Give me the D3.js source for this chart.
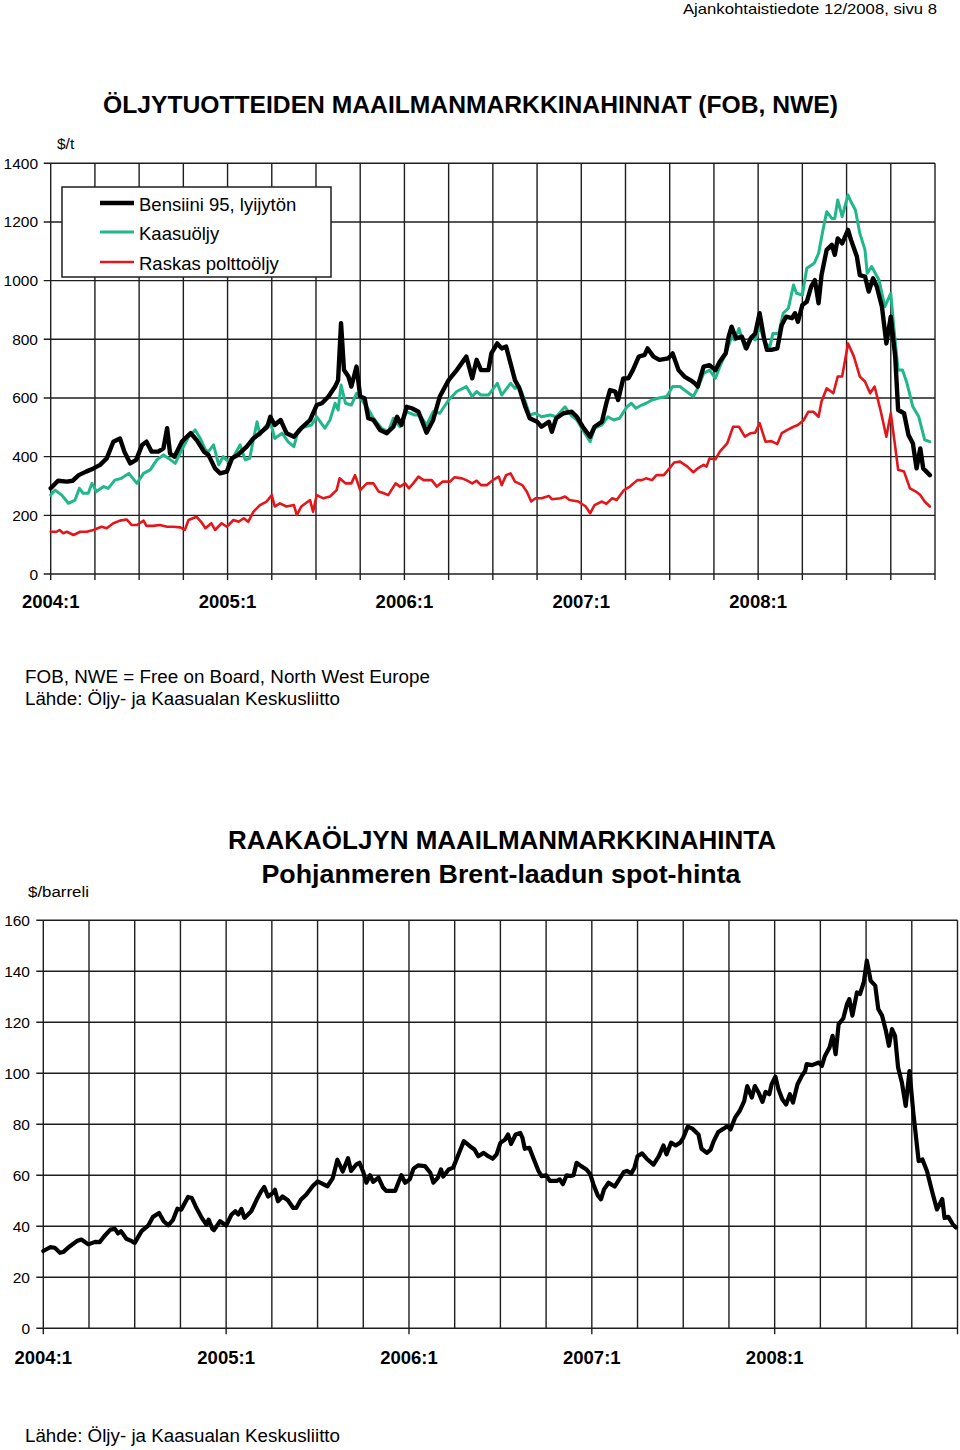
<!DOCTYPE html>
<html><head><meta charset="utf-8">
<script src="https://cdn.jsdelivr.net/npm/d3@7"></script>
<style>
html,body{margin:0;padding:0;background:#fff;}
svg{display:block;font-family:"Liberation Sans",Arial,sans-serif;}
</style></head>
<body>
<svg id="c" width="960" height="1450"></svg>
<script>
// ---------- DATA (month index since 2004:1, value) ----------
const yearLabels = ["2004:1","2005:1","2006:1","2007:1","2008:1"];
const productTicks = [0,200,400,600,800,1000,1200,1400];
const brentTicks = [0,20,40,60,80,100,120,140,160];
const seriesNames = ["Bensiini 95, lyijytön","Kaasuöljy","Raskas polttoöljy"];

const bensiini = [[0,292],[0.5,318],[1.1,315],[1.5,318],[1.9,337],[2.4,349],[2.9,360],[3.35,372],[3.8,394],[4.25,451],[4.7,462],[5.0,417],[5.4,377],[5.8,389],[6.2,440],[6.5,451],[6.85,417],[7.3,417],[7.65,428],[7.9,497],[8.1,411],[8.4,400],[8.9,451],[9.5,480],[9.9,457],[10.4,417],[10.7,406],[11.15,360],[11.5,343],[11.95,349],[12.3,394],[12.7,406],[13.3,434],[13.75,462],[14.2,480],[14.7,502],[14.9,536],[15.2,508],[15.6,525],[16.0,480],[16.5,468],[17.0,497],[17.6,525],[18.05,576],[18.4,582],[18.85,605],[19.3,639],[19.5,661],[19.7,855],[19.9,695],[20.2,673],[20.4,639],[20.75,707],[21.0,605],[21.3,599],[21.55,531],[21.9,525],[22.35,491],[22.8,480],[23.25,502],[23.5,536],[23.8,508],[24.15,570],[24.5,565],[24.95,553],[25.5,482],[25.95,525],[26.4,605],[27.0,661],[27.55,695],[28.2,741],[28.6,667],[28.9,730],[29.2,695],[29.7,695],[29.9,752],[30.3,786],[30.6,769],[30.9,775],[31.2,718],[31.5,661],[31.8,633],[32.2,570],[32.5,531],[33.0,519],[33.3,502],[33.8,519],[34.0,485],[34.3,531],[34.8,548],[35.35,553],[35.7,536],[36.1,502],[36.6,468],[36.9,502],[37.4,519],[37.7,582],[37.95,627],[38.3,622],[38.5,593],[38.85,667],[39.2,667],[39.5,695],[39.9,741],[40.3,747],[40.5,769],[40.9,741],[41.3,730],[41.9,735],[42.2,752],[42.6,695],[43.0,673],[43.4,661],[43.7,650],[43.9,639],[44.3,707],[44.7,712],[45.1,695],[45.4,724],[45.8,752],[46.0,809],[46.2,843],[46.5,803],[46.9,809],[47.2,769],[47.5,803],[47.8,820],[48.1,889],[48.4,803],[48.6,764],[48.9,764],[49.3,769],[49.6,849],[49.9,877],[50.3,872],[50.5,889],[50.7,860],[51.0,917],[51.3,928],[51.6,980],[51.85,1002],[52.1,923],[52.3,1019],[52.65,1105],[53.0,1122],[53.2,1088],[53.4,1144],[53.7,1127],[54.1,1173],[54.3,1139],[54.7,1082],[54.9,1019],[55.25,1014],[55.5,963],[55.8,1008],[56.05,980],[56.4,911],[56.7,786],[57.0,877],[57.3,741],[57.5,559],[57.9,548],[58.2,474],[58.5,445],[58.75,360],[59.0,428],[59.2,360],[59.65,337]];

const kaasuoljy = [[0,269],[0.3,286],[0.75,269],[1.2,241],[1.65,252],[1.95,292],[2.2,275],[2.55,275],[2.8,309],[3.1,281],[3.6,298],[3.9,292],[4.35,320],[4.8,326],[5.3,343],[5.85,309],[6.3,343],[6.75,355],[7.2,389],[7.65,406],[8.0,394],[8.45,377],[8.9,423],[9.35,468],[9.8,491],[10.15,462],[10.5,423],[10.7,417],[11.05,440],[11.4,372],[11.7,400],[12.05,383],[12.4,400],[12.85,440],[13.2,389],[13.5,394],[14.0,519],[14.2,474],[14.55,502],[14.9,519],[15.2,462],[15.7,480],[16.1,451],[16.5,434],[16.8,491],[17.25,502],[17.7,508],[18.05,536],[18.6,497],[18.95,525],[19.3,582],[19.5,559],[19.7,644],[20.0,582],[20.4,576],[20.75,616],[21.1,593],[21.45,570],[21.9,531],[22.45,497],[22.9,485],[23.25,531],[23.7,502],[24.15,553],[24.7,542],[25.05,542],[25.5,508],[25.95,553],[26.4,548],[27.0,593],[27.55,622],[28.2,639],[28.6,605],[28.9,622],[29.2,610],[29.7,610],[30.3,650],[30.6,610],[31.2,650],[31.5,633],[31.8,639],[32.2,588],[32.5,542],[32.9,548],[33.3,536],[33.9,542],[34.3,536],[34.9,570],[35.3,542],[35.7,525],[36.1,491],[36.6,451],[36.9,497],[37.4,508],[37.8,536],[38.2,525],[38.6,531],[39.1,570],[39.4,582],[39.7,565],[40.1,576],[40.4,582],[40.8,593],[41.2,599],[41.8,605],[42.2,639],[42.7,639],[43.0,627],[43.6,605],[43.9,633],[44.3,684],[44.7,695],[45.1,667],[45.4,707],[45.9,764],[46.2,809],[46.4,798],[46.7,837],[47.1,769],[47.5,809],[47.8,798],[48.1,843],[48.5,786],[48.8,775],[49.0,820],[49.4,820],[49.7,889],[50.05,906],[50.4,985],[50.6,957],[51.0,951],[51.3,1042],[51.8,1059],[52.1,1093],[52.4,1173],[52.65,1235],[53.0,1212],[53.2,1212],[53.4,1275],[53.7,1218],[54.1,1292],[54.3,1269],[54.6,1241],[54.9,1161],[55.25,1105],[55.4,1025],[55.7,1048],[56.2,1002],[56.6,911],[57.0,957],[57.2,843],[57.5,695],[57.8,695],[58.1,650],[58.5,570],[58.9,536],[59.3,457],[59.65,451]];

const raskas = [[0,144],[0.4,144],[0.6,150],[0.85,139],[1.1,144],[1.55,133],[2.0,144],[2.45,144],[2.9,150],[3.45,161],[3.8,156],[4.25,173],[4.7,182],[5.15,186],[5.5,167],[5.85,167],[6.3,182],[6.5,164],[6.95,164],[7.4,167],[7.9,161],[8.3,161],[8.8,159],[9.1,150],[9.35,184],[9.9,195],[10.25,175],[10.5,156],[10.9,173],[11.15,150],[11.6,173],[11.95,161],[12.4,184],[12.75,178],[13.1,190],[13.4,178],[13.75,212],[14.2,235],[14.65,247],[15.0,269],[15.2,230],[15.55,241],[16.0,230],[16.5,235],[16.7,201],[17.0,230],[17.6,252],[17.8,212],[18.05,269],[18.5,258],[18.95,264],[19.4,286],[19.6,326],[20.0,309],[20.4,309],[20.65,337],[21.0,286],[21.45,309],[21.9,309],[22.25,281],[22.6,275],[22.9,269],[23.4,309],[23.7,298],[24.05,309],[24.3,292],[24.6,309],[24.95,332],[25.3,320],[25.85,320],[26.2,298],[26.6,315],[27.1,315],[27.4,330],[27.9,326],[28.2,320],[28.6,309],[28.9,318],[29.2,303],[29.6,303],[30.0,320],[30.4,332],[30.6,303],[30.9,337],[31.2,343],[31.5,315],[32.0,303],[32.3,281],[32.6,247],[32.9,258],[33.3,258],[33.8,266],[34.0,255],[34.6,258],[34.9,264],[35.2,252],[35.8,247],[36.3,230],[36.6,207],[36.9,235],[37.4,247],[37.7,239],[38.1,258],[38.4,252],[38.9,286],[39.3,298],[39.8,320],[40.1,320],[40.4,326],[40.8,320],[41.1,337],[41.6,337],[41.9,355],[42.3,380],[42.7,383],[43.2,366],[43.6,347],[43.9,360],[44.3,372],[44.5,366],[44.7,394],[45.1,391],[45.4,417],[45.9,445],[46.3,502],[46.7,502],[47.1,468],[47.5,480],[47.8,482],[48.1,514],[48.5,451],[48.9,453],[49.3,443],[49.6,480],[50.05,493],[50.4,502],[50.7,508],[51.1,525],[51.4,553],[51.75,553],[52.1,536],[52.3,588],[52.65,633],[53.1,616],[53.4,673],[53.7,673],[54.1,786],[54.5,741],[54.9,673],[55.25,656],[55.6,616],[55.9,639],[56.3,559],[56.7,468],[57.0,548],[57.3,434],[57.5,355],[57.9,349],[58.3,292],[58.7,281],[59.0,269],[59.3,247],[59.65,230]];

const brent = [[0,30.3],[0.45,31.8],[0.75,31.6],[1.1,29.6],[1.3,29.9],[1.75,32.2],[2.2,34.2],[2.5,34.8],[2.95,32.9],[3.4,33.9],[3.7,33.8],[4.0,36.1],[4.4,38.7],[4.7,39.0],[4.9,37.2],[5.1,38.1],[5.45,35.1],[5.8,34.2],[6.0,33.5],[6.45,38.1],[6.9,40.4],[7.2,43.7],[7.6,45.2],[7.9,42.0],[8.2,40.4],[8.5,42.4],[8.8,46.9],[9.05,46.5],[9.5,51.5],[9.75,51.1],[10.0,47.8],[10.4,43.3],[10.7,40.7],[10.85,42.6],[11.1,39.0],[11.2,38.5],[11.6,42.0],[12.0,40.3],[12.35,44.6],[12.6,45.9],[12.8,44.6],[13.0,46.8],[13.2,43.3],[13.65,45.9],[14.0,50.4],[14.3,53.7],[14.5,55.4],[14.75,51.7],[15.05,53.0],[15.2,54.3],[15.4,49.8],[15.7,51.7],[16.05,50.2],[16.4,47.2],[16.6,47.2],[16.9,50.4],[17.25,52.4],[17.7,55.9],[18.0,57.6],[18.2,57.0],[18.65,55.7],[19.0,58.9],[19.3,66.1],[19.65,61.5],[20.0,66.7],[20.2,61.7],[20.55,64.3],[20.75,64.9],[21.0,61.3],[21.2,57.1],[21.45,60.0],[21.65,57.4],[22.0,59.1],[22.3,55.2],[22.5,53.9],[23.1,53.9],[23.3,57.1],[23.5,60.0],[23.75,57.1],[24.05,58.4],[24.3,62.6],[24.6,63.9],[25.05,63.6],[25.4,61.0],[25.6,57.1],[25.9,59.1],[26.1,62.3],[26.25,59.5],[26.6,62.3],[26.9,63.0],[27.2,67.5],[27.6,73.4],[28.0,71.4],[28.3,70.1],[28.55,67.5],[28.9,68.8],[29.2,67.5],[29.5,66.5],[29.75,68.2],[30.0,72.7],[30.3,74.0],[30.5,76.0],[30.7,72.3],[31.0,76.0],[31.3,76.6],[31.45,74.7],[31.6,70.4],[31.9,70.8],[32.2,66.2],[32.5,61.7],[32.7,59.7],[33.0,60.0],[33.25,57.8],[33.7,57.8],[33.9,58.4],[34.1,56.5],[34.35,60.0],[34.6,59.7],[34.8,60.0],[35.0,64.9],[35.3,63.6],[35.65,62.3],[35.9,60.4],[36.1,56.5],[36.4,52.0],[36.6,50.6],[36.8,54.5],[37.1,57.1],[37.5,55.6],[37.8,58.4],[38.1,61.3],[38.3,61.7],[38.6,60.8],[38.8,63.0],[39.0,67.5],[39.3,68.6],[39.6,66.5],[40.05,64.2],[40.4,67.5],[40.7,71.7],[40.9,68.2],[41.2,72.8],[41.5,71.7],[41.8,72.8],[42.0,74.7],[42.3,79.1],[42.6,78.3],[43.0,76.0],[43.2,70.4],[43.55,68.8],[43.8,70.1],[44.0,73.4],[44.3,77.0],[44.65,78.3],[44.9,79.3],[45.1,78.0],[45.4,82.6],[45.7,85.2],[46.0,89.1],[46.2,95.0],[46.5,90.5],[46.7,95.0],[46.95,92.4],[47.2,88.8],[47.4,92.7],[47.65,91.8],[47.8,95.7],[48.05,98.7],[48.25,93.7],[48.5,89.8],[48.75,87.8],[49.0,91.8],[49.2,88.5],[49.5,95.7],[49.8,99.2],[50.0,100.9],[50.1,103.6],[50.45,103.2],[50.9,104.2],[51.1,102.9],[51.3,106.8],[51.6,110.1],[51.8,114.7],[52.0,107.5],[52.2,119.3],[52.5,121.5],[52.75,127.2],[52.9,129.1],[53.1,122.6],[53.4,131.7],[53.6,131.1],[53.85,135.7],[54.05,144.2],[54.3,136.3],[54.6,134.4],[54.8,125.2],[55.05,122.6],[55.3,116.7],[55.5,110.8],[55.7,117.3],[55.9,114.7],[56.1,102.3],[56.35,96.4],[56.6,87.2],[56.85,100.9],[57.1,84.6],[57.45,65.6],[57.7,66.2],[58.0,61.6],[58.3,54.4],[58.65,46.6],[59.0,50.7],[59.15,43.3],[59.4,43.7],[59.7,40.7],[59.9,39.5]];

// ---------- DRAW ----------
const svg = d3.select("#c");
const GRID = "#1e1e1e";
const GREEN = "#21b68b", RED = "#e3161b";

function txt(x,y,s,opt){
  opt = opt||{};
  const t = svg.append("text").attr("x",x).attr("y",y).text(s)
    .attr("font-size",opt.size||15).attr("fill","#000")
    .attr("font-weight",opt.bold?"bold":"normal")
    .attr("text-anchor",opt.anchor||"start")
    .attr("dominant-baseline","central");
  if(opt.len) t.attr("textLength",opt.len).attr("lengthAdjust","spacingAndGlyphs");
  return t;
}

function chart(cfg){
  const x = d3.scaleLinear().domain([0,60]).range([cfg.x0,cfg.x1]);
  const y = d3.scaleLinear().domain([0,cfg.ymax]).range([cfg.y0,cfg.y1]);
  const g = svg.append("g");
  g.selectAll(".hg").data(cfg.yticks).join("line")
    .attr("x1",cfg.x0-7).attr("x2",cfg.x1)
    .attr("y1",d=>y(d)).attr("y2",d=>y(d))
    .attr("stroke",GRID).attr("stroke-width",1.4);
  const q = d3.range(0,61,3);
  g.selectAll(".vg").data(q).join("line")
    .attr("x1",d=>x(d)).attr("x2",d=>x(d))
    .attr("y1",cfg.y1).attr("y2",d=>y(0)+((cfg.allTicks||d%12===0)?6:0))
    .attr("stroke",GRID).attr("stroke-width",1.4);
  g.selectAll(".yl").data(cfg.yticks).join("text")
    .attr("x",cfg.ylabX).attr("y",d=>y(d)).text(d=>d)
    .attr("text-anchor","end").attr("dominant-baseline","central")
    .attr("font-size",15.5);
  g.selectAll(".xl").data(yearLabels).join("text")
    .attr("x",(d,i)=>x(i*12)).attr("y",cfg.xlabY).text(d=>d)
    .attr("text-anchor","middle").attr("dominant-baseline","central")
    .attr("font-size",cfg.xlabSize).attr("font-weight","bold");
  const line = d3.line().x(d=>x(d[0])).y(d=>y(d[1])).curve(d3.curveLinear);
  cfg.series.forEach(s=>{
    g.append("path").datum(s.data).attr("d",line)
      .attr("fill","none").attr("stroke",s.color).attr("stroke-width",s.w)
      .attr("stroke-linejoin","round").attr("stroke-linecap","round");
  });
  return {x,y};
}

txt(937,8,"Ajankohtaistiedote 12/2008, sivu 8",{size:15,anchor:"end",len:254});
txt(103,104,"ÖLJYTUOTTEIDEN MAAILMANMARKKINAHINNAT (FOB, NWE)",{size:24,bold:true,len:735});
txt(57,143,"$/t",{size:15.5});

chart({x0:50.7,x1:935,y0:574,y1:163.3,ymax:1400,yticks:productTicks,ylabX:38,
  xlabY:601,xlabSize:18.5,allTicks:true,
  series:[
    {data:raskas,color:RED,w:2.6},
    {data:kaasuoljy,color:GREEN,w:3},
    {data:bensiini,color:"#000",w:4.4}
  ]});

svg.append("rect").attr("x",62).attr("y",187).attr("width",269).attr("height",90)
  .attr("fill","#fff").attr("stroke",GRID).attr("stroke-width",1.5);
const legColors = ["#000",GREEN,RED], legW=[4.5,3,2.6], legY=[203,232,262];
seriesNames.forEach((n,i)=>{
  svg.append("line").attr("x1",100).attr("x2",134).attr("y1",legY[i]).attr("y2",legY[i])
    .attr("stroke",legColors[i]).attr("stroke-width",legW[i]);
  txt(139,legY[i]+1,n,{size:18.5});
});

txt(25,677,"FOB, NWE = Free on Board, North West Europe",{size:17.5,len:405});
txt(25,699,"Lähde: Öljy- ja Kaasualan Keskusliitto",{size:17.5,len:315});

txt(502,840,"RAAKAÖLJYN MAAILMANMARKKINAHINTA",{size:25,bold:true,anchor:"middle",len:548});
txt(501,874,"Pohjanmeren Brent-laadun spot-hinta",{size:25,bold:true,anchor:"middle",len:479});
txt(28,891,"$/barreli",{size:15.5,len:61});

chart({x0:43.3,x1:957.5,y0:1328.3,y1:920.3,ymax:160,yticks:brentTicks,ylabX:30,
  xlabY:1357,xlabSize:18.5,allTicks:false,
  series:[{data:brent,color:"#000",w:4.2}]});

txt(25,1436,"Lähde: Öljy- ja Kaasualan Keskusliitto",{size:17.5,len:315});
</script>
</body></html>
